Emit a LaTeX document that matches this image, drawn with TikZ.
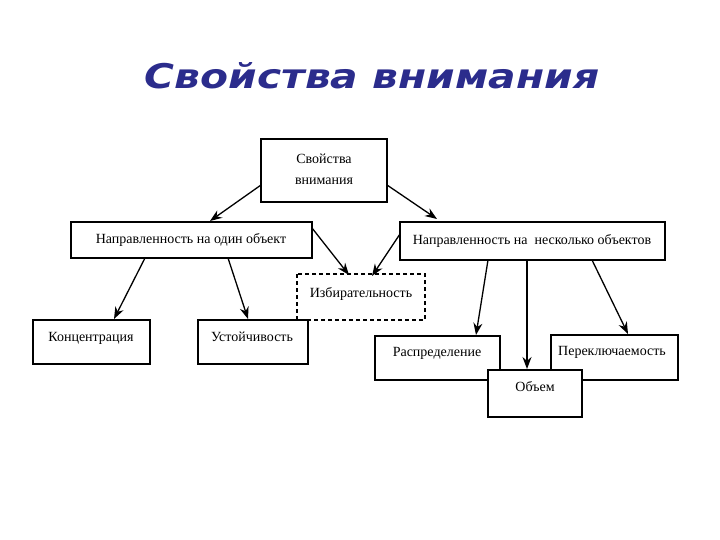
\documentclass[tikz,border=0pt]{standalone}
\usepackage{fontspec}
\setmainfont{Liberation Serif}
\newfontfamily\titlefont{DejaVu Sans}
\usetikzlibrary{arrows.meta}
\definecolor{titleblue}{HTML}{2B2C8C}
\begin{document}
\begin{tikzpicture}[x=1pt,y=-1pt,
  box/.style={draw,line width=1.6pt},
  dbox/.style={draw,line width=1.5pt,dash pattern=on 4pt off 3pt},
  lbl/.style={font=\fontsize{14}{16}\selectfont},
  arr/.style={line width=1.3pt,-{Stealth[length=12pt,width=9pt]}}]
\useasboundingbox (0,0) rectangle (720,540);
\node[font=\titlefont\bfseries\itshape\fontsize{34}{36}\selectfont,text=titleblue] (title) at (372,76) {\scalebox{1.2}[1]{Свойства внимания}};
% boxes
\draw[box] (261,139) rectangle (387,202);
\node[lbl,align=center] (top) at (324,169) {Свойства\\[5pt]внимания};
\coordinate (topL) at (261,185); \coordinate (topR) at (387,185);
\draw[box] (71,222) rectangle (312,258);
\node[lbl] (lm) at (191,240) {Направленность на один объект};
\draw[box] (400,222) rectangle (665,260);
\node[lbl] (rm) at (532,241) {Направленность на \ несколько объектов};
\draw[dbox] (297,274) rectangle (425,320);
\node[lbl] (izb) at (361,294) {Избирательность};
\draw[box] (33,320) rectangle (150,364);
\node[lbl] (konc) at (91,338) {Концентрация};
\draw[box] (198,320) rectangle (308,364);
\node[lbl] (ust) at (252,337) {Устойчивость};
\draw[box] (375,336) rectangle (500,380);
\node[lbl] (rasp) at (437,353) {Распределение};
\draw[box] (551,335) rectangle (678,380);
\node[lbl] (per) at (612,352) {Переключаемость};
\draw[box,fill=white] (488,370) rectangle (582,417);
\node[lbl] (obem) at (535,387) {Объем};
% arrows
\coordinate (a1) at (210,221); \draw[arr] (topL) -- (a1);
\coordinate (a2) at (437,219); \draw[arr] (topR) -- (a2);
\coordinate (b1) at (312,228); \coordinate (b2) at (349,275); \draw[arr] (b1) -- (b2);
\coordinate (c1) at (400,234); \coordinate (c2) at (372,276); \draw[arr] (c1) -- (c2);
\coordinate (d1) at (145,258); \coordinate (d2) at (114,319); \draw[arr] (d1) -- (d2);
\coordinate (e1) at (228,258); \coordinate (e2) at (248,319); \draw[arr] (e1) -- (e2);
\coordinate (f1) at (488,260); \coordinate (f2) at (476,335); \draw[arr] (f1) -- (f2);
\coordinate (g1) at (527,260); \coordinate (g2) at (527,369); \draw[arr] (g1) -- (g2);
\coordinate (h1) at (592,260); \coordinate (h2) at (628,334); \draw[arr] (h1) -- (h2);
\end{tikzpicture}
\end{document}
